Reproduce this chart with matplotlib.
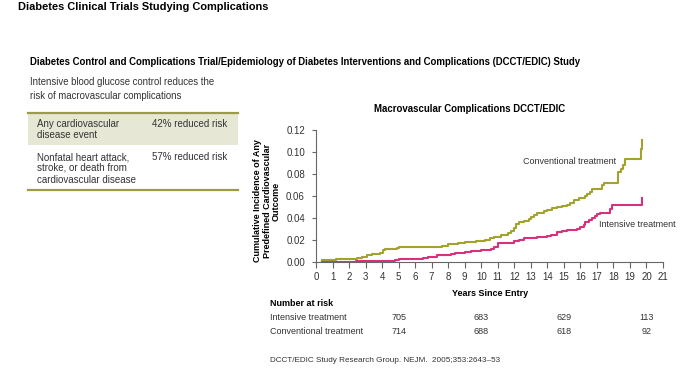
import matplotlib.pyplot as plt
import matplotlib.transforms as mtransforms

plt.rcParams['font.family'] = ['Liberation Sans', 'DejaVu Sans']

# step points (years, cumulative incidence)
conv_x = [0.35, 1.2, 2.5, 2.8, 3.1, 3.4, 3.9, 4.05, 4.15, 4.9, 5.0, 7.6, 8.0,
          8.6, 9.0, 9.7, 10.2, 10.5, 10.8, 11.2, 11.6, 11.8, 12.0, 12.1, 12.3,
          12.6, 12.9, 13.0, 13.2, 13.4, 13.8, 14.0, 14.3, 14.6, 14.9, 15.2,
          15.4, 15.6, 15.9, 16.3, 16.4, 16.6, 16.7, 17.3, 17.4, 18.3, 18.45,
          18.6, 18.7, 19.65, 19.7]
conv_y = [0.002, 0.003, 0.004, 0.005, 0.006, 0.007, 0.008, 0.011, 0.012,
          0.013, 0.014, 0.015, 0.016, 0.017, 0.018, 0.019, 0.020, 0.022,
          0.023, 0.025, 0.026, 0.028, 0.031, 0.035, 0.036, 0.037, 0.039,
          0.041, 0.043, 0.045, 0.046, 0.047, 0.049, 0.050, 0.051, 0.052,
          0.054, 0.056, 0.058, 0.060, 0.062, 0.064, 0.066, 0.070, 0.072,
          0.082, 0.085, 0.088, 0.094, 0.103, 0.111]

int_x = [0.35, 2.4, 4.8, 5.0, 6.5, 6.8, 7.3, 8.2, 8.4, 9.0, 9.4, 10.0, 10.6,
         10.8, 11.0, 12.0, 12.3, 12.6, 13.4, 14.0, 14.2, 14.6, 14.9, 15.2,
         15.8, 16.0, 16.2, 16.3, 16.5, 16.7, 16.9, 17.0, 17.2, 17.8, 17.9,
         19.7, 19.72]
int_y = [0.000, 0.001, 0.002, 0.003, 0.004, 0.005, 0.006, 0.007, 0.008,
         0.009, 0.010, 0.011, 0.012, 0.014, 0.017, 0.019, 0.020, 0.022,
         0.023, 0.024, 0.025, 0.027, 0.028, 0.029, 0.030, 0.032, 0.034,
         0.036, 0.038, 0.040, 0.042, 0.044, 0.045, 0.048, 0.052, 0.056, 0.058]

risk_years = [5, 10, 15, 20]
risk_int = [705, 683, 629, 113]
risk_conv = [714, 688, 618, 92]

olive = '#a2a22e'
magenta = '#d8307a'
tline = '#9c9c48'
txtc = '#333333'

fig = plt.figure(figsize=(7, 3.75), dpi=100)

def fy(py):
    return 1 - py / 375

# headings
fig.text(18 / 700, fy(7), 'Diabetes Clinical Trials Studying Complications',
         fontsize=7.9, fontweight='bold', va='center')
fig.text(30 / 700, fy(62), 'Diabetes Control and Complications Trial/Epidemiology of Diabetes '
         'Interventions and Complications (DCCT/EDIC) Study',
         fontsize=6.95, fontweight='bold', va='center')
fig.text(30 / 700, fy(82), 'Intensive blood glucose control reduces the',
         fontsize=6.9, va='center', color=txtc)
fig.text(30 / 700, fy(96), 'risk of macrovascular complications',
         fontsize=6.9, va='center', color=txtc)

# table on the left
tab = fig.add_axes([0, 0, 1, 1])
tab.set_xlim(0, 700)
tab.set_ylim(375, 0)
tab.axis('off')
tab.fill_between([28, 238], 113, 145, color='#e7e7d6', lw=0)
tab.plot([28, 238], [113, 113], color=tline, lw=1.6)
tab.plot([28, 238], [190, 190], color=tline, lw=1.6)
for txt, yy in [('Any cardiovascular', 124), ('disease event', 135),
                ('Nonfatal heart attack,', 157), ('stroke, or death from', 168),
                ('cardiovascular disease', 180)]:
    tab.text(37, yy, txt, fontsize=7, va='center', color=txtc)
tab.text(152, 124, '42% reduced risk', fontsize=7, va='center', color=txtc)
tab.text(152, 157, '57% reduced risk', fontsize=7, va='center', color=txtc)

# the chart
ax = fig.add_axes([316 / 700, fy(262), 347 / 700, 132 / 375])
ax.plot(conv_x, conv_y, drawstyle='steps-post', color=olive, lw=1.5)
ax.plot(int_x, int_y, drawstyle='steps-post', color=magenta, lw=1.5)
ax.set_xlim(0, 21)
ax.set_ylim(0, 0.12)
ax.set_xticks(range(0, 22))
ax.set_yticks([0, 0.02, 0.04, 0.06, 0.08, 0.10, 0.12])
ax.set_yticklabels(['0.00', '0.02', '0.04', '0.06', '0.08', '0.10', '0.12'])
ax.spines['top'].set_visible(False)
ax.spines['right'].set_visible(False)
for s in ['left', 'bottom']:
    ax.spines[s].set_color('#666666')
    ax.spines[s].set_linewidth(0.8)
ax.tick_params(direction='out', length=4, width=0.8, color='#666666',
               labelsize=7, labelcolor=txtc)
ax.tick_params(axis='y', length=3, pad=5)
ax.tick_params(axis='x', pad=3.5)
ax.patch.set_alpha(0)

ax.text(9.3, 0.139, 'Macrovascular Complications DCCT/EDIC', ha='center',
        va='center', fontsize=6.9, fontweight='bold')
ax.text(12.5, 0.0915, 'Conventional treatment', fontsize=6.5, color=txtc,
        va='center')
ax.text(17.1, 0.034, 'Intensive treatment', fontsize=6.5, color=txtc,
        va='center')
fig.text(267 / 700, fy(201), 'Cumulative Incidence of Any\nPredefined Cardiovascular\nOutcome',
         rotation=90, ha='center', va='center', fontsize=6.5, fontweight='bold',
         linespacing=1.05)
fig.text(490 / 700, fy(293), 'Years Since Entry', ha='center', va='center',
         fontsize=6.5, fontweight='bold')

# number at risk
fig.text(270 / 700, fy(304), 'Number at risk', fontsize=6.5, fontweight='bold', va='center')
fig.text(270 / 700, fy(318), 'Intensive treatment', fontsize=6.5, va='center', color=txtc)
fig.text(270 / 700, fy(332), 'Conventional treatment', fontsize=6.5, va='center', color=txtc)
trans = mtransforms.blended_transform_factory(ax.transData, fig.transFigure)
for yr, a, b in zip(risk_years, risk_int, risk_conv):
    ax.text(yr, fy(318), str(a), transform=trans, ha='center', va='center',
            fontsize=6.5, color=txtc)
    ax.text(yr, fy(332), str(b), transform=trans, ha='center', va='center',
            fontsize=6.5, color=txtc)

fig.text(270 / 700, fy(360), 'DCCT/EDIC Study Research Group. NEJM.  2005;353:2643\u201353',
         fontsize=5.9, va='center', color=txtc)

fig.savefig('out.png', dpi=100)
